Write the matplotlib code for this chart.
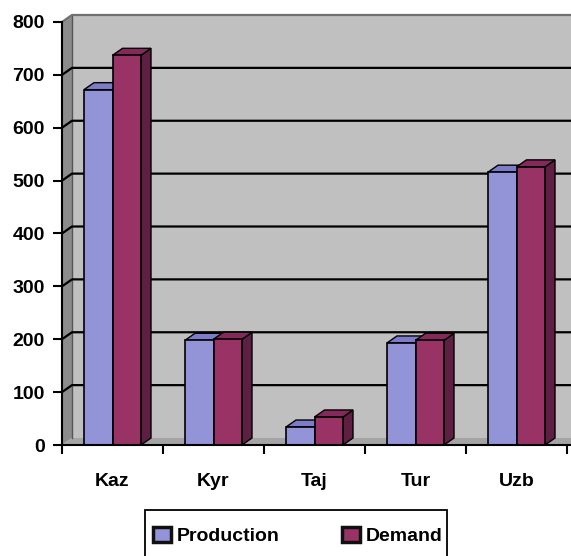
import matplotlib
matplotlib.use("Agg")
import matplotlib.pyplot as plt
from matplotlib.patches import Polygon, Rectangle
from matplotlib.lines import Line2D

categories = ["Kaz", "Kyr", "Taj", "Tur", "Uzb"]
production = [672, 198, 34, 193, 516]
demand = [737, 200, 53, 198, 526]
yticks = [0, 100, 200, 300, 400, 500, 600, 700, 800]

W, H = 571, 556
fig = plt.figure(figsize=(W / 100, H / 100), dpi=100)
plt.rcParams['font.family'] = ['Liberation Sans', 'DejaVu Sans']

left_px, right_px, top_px, bot_px = 62, 571, 22, 445
ax = fig.add_axes([left_px / W, (H - bot_px) / H, (right_px - left_px) / W, (bot_px - top_px) / H])
xmin = -0.5
xmax = xmin + (right_px - left_px) / 101.0
ax.set_xlim(xmin, xmax)
ax.set_ylim(0, 800)
ax.patch.set_visible(False)

px_x = (right_px - left_px) / (xmax - xmin)
px_y = (bot_px - top_px) / 800.0
dx = 10 / px_x
dy = 7 / px_y
ytop = 800

# walls
ax.add_patch(Polygon([(xmin + dx, dy), (xmax + 1, dy), (xmax + 1, ytop + dy), (xmin + dx, ytop + dy)],
                     closed=True, facecolor="#c0c0c0", edgecolor="none", zorder=0, clip_on=False))
ax.add_patch(Polygon([(xmin, 0), (xmin + dx, dy), (xmin + dx, ytop + dy), (xmin, ytop)],
                     closed=True, facecolor="#8c8c8c", edgecolor="none", zorder=0.5, clip_on=False))
ax.add_patch(Polygon([(xmin, 0), (xmin + dx, dy), (xmax + 1, dy), (xmax + 1, 0)],
                     closed=True, facecolor="#a4a4a4", edgecolor="none", zorder=0.5, clip_on=False))
ax.add_line(Line2D([xmin + dx, xmin + dx], [dy, ytop + dy], color="#555555", lw=1, zorder=0.6, clip_on=False))

# gridlines
for v in yticks[1:]:
    col = "#707070" if v == 800 else "black"
    ax.add_line(Line2D([xmin, xmin + dx, xmax + 1], [v, v + dy, v + dy], color=col, lw=1.6,
                       zorder=1, clip_on=False))

bw = 28.5 / 101.0
styles = [
    ("#9393d8", "#7c7cc8", "#6a6ab0"),
    ("#993366", "#85295a", "#5e1f42"),
]

def draw_bar(x0, val, cols, z):
    front, top, side = cols
    ax.add_patch(Polygon([(x0 + bw, 0), (x0 + bw + dx, dy), (x0 + bw + dx, val + dy), (x0 + bw, val)],
                         closed=True, facecolor=side, edgecolor="black", lw=1, zorder=z, clip_on=False))
    ax.add_patch(Polygon([(x0, val), (x0 + dx, val + dy), (x0 + bw + dx, val + dy), (x0 + bw, val)],
                         closed=True, facecolor=top, edgecolor="black", lw=1, zorder=z, clip_on=False))
    ax.add_patch(Rectangle((x0, 0), bw, val, facecolor=front, edgecolor="black", lw=1.2,
                           zorder=z + 0.1, clip_on=False))

for i in range(len(categories)):
    draw_bar(i - bw, production[i], styles[0], 2)
    draw_bar(i, demand[i], styles[1], 3)

# axes
for s in ["top", "right"]:
    ax.spines[s].set_visible(False)
ax.spines["left"].set_color("black")
ax.spines["left"].set_linewidth(1.5)
ax.spines["bottom"].set_color("black")
ax.spines["bottom"].set_linewidth(1.5)
ax.spines["left"].set_zorder(5)
ax.spines["bottom"].set_zorder(5)

ax.set_yticks(yticks)
ax.set_yticklabels([str(v) for v in yticks], fontsize=14, fontweight="bold")
ax.tick_params(axis="y", length=6.5, width=1.5, pad=6)

bounds = [xmin + k for k in range(6)]
ax.set_xticks(bounds)
ax.set_xticklabels([])
ax.set_xticks(range(len(categories)), minor=True)
ax.set_xticklabels(categories, minor=True, fontsize=14, fontweight="bold")
ax.tick_params(axis="x", which="major", length=6.5, width=1.5, direction="out")
ax.tick_params(axis="x", which="minor", length=0, pad=20)

# legend frame (extends past bottom edge)
fig.add_artist(Rectangle((145 / W, -0.05), (447 - 145) / W, (H - 510) / H + 0.05,
                         transform=fig.transFigure, facecolor="white", edgecolor="black",
                         lw=1.3, clip_on=False))
h1 = Rectangle((0, 0), 1, 1, facecolor=styles[0][0], edgecolor="#111111", lw=2.5)
h2 = Rectangle((0, 0), 1, 1, facecolor=styles[1][0], edgecolor="#111111", lw=2.5)
leg = fig.legend([h1, h2], ["Production", "Demand"], loc="center left",
                 bbox_to_anchor=(153 / W, (H - 536) / H), ncol=2, frameon=False,
                 prop={"weight": "bold", "size": 14},
                 handlelength=0.95, handleheight=0.85, handletextpad=0.28,
                 columnspacing=3.2, borderpad=0, borderaxespad=0)

fig.savefig("out.png", dpi=100)
